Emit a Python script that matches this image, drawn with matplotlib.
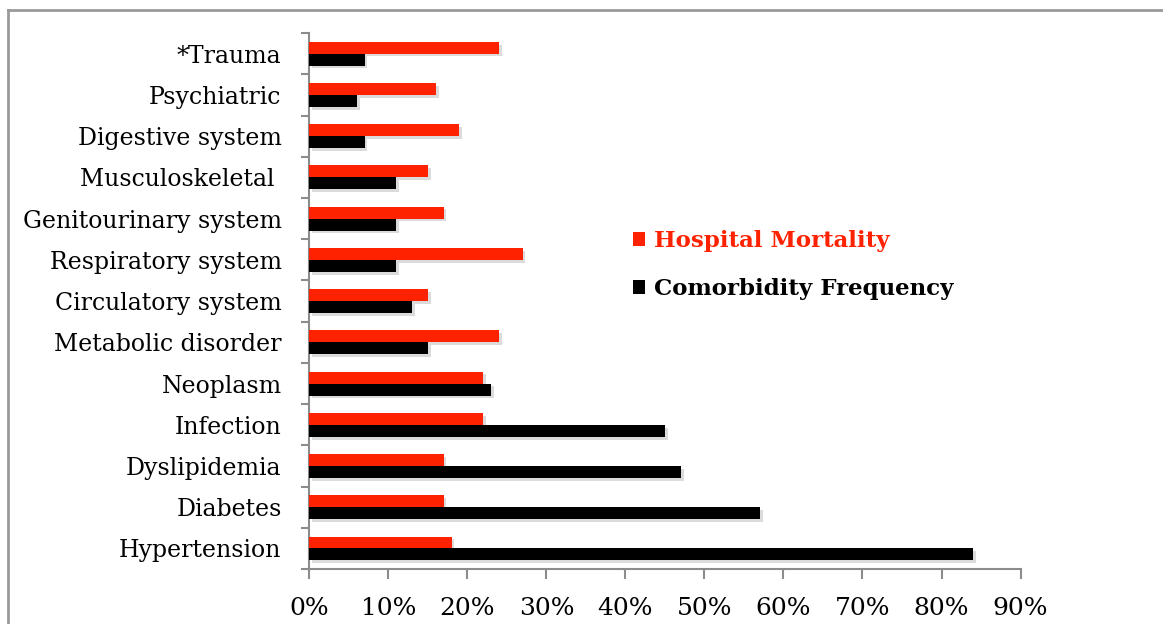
import matplotlib
matplotlib.use("Agg")
import matplotlib.pyplot as plt
import matplotlib.patheffects as pe
from matplotlib.lines import Line2D
from matplotlib.patches import Patch
from matplotlib.ticker import FixedLocator, PercentFormatter
import numpy as np

categories = [
    "Hypertension", "Diabetes", "Dyslipidemia", "Infection", "Neoplasm",
    "Metabolic disorder", "Circulatory system", "Respiratory system",
    "Genitourinary system", "Musculoskeletal ", "Digestive system",
    "Psychiatric", "*Trauma",
]
hospital_mortality = [18, 17, 17, 22, 22, 24, 15, 27, 17, 15, 19, 16, 24]
comorbidity_frequency = [84, 57, 47, 45, 23, 15, 13, 11, 11, 11, 7, 6, 7]
x_ticks = [0, 10, 20, 30, 40, 50, 60, 70, 80, 90]

RED = "#ff2200"
BLACK = "#000000"
AXIS_GRAY = "#8c8c8c"

plt.rcParams["font.family"] = ["DejaVu Serif"]

fig = plt.figure(figsize=(11.63, 6.24), dpi=100)
ax = fig.add_axes([0.266, 0.088, 0.6115, 0.859])

y = np.arange(len(categories))
h = 0.29
shadow = [pe.SimplePatchShadow(offset=(2, -2), shadow_rgbFace="#9a9a9a", alpha=0.35),
          pe.Normal()]

bars_red = ax.barh(y + h / 2, hospital_mortality, height=h, color=RED,
                   label="Hospital Mortality", zorder=3)
bars_black = ax.barh(y - h / 2, comorbidity_frequency, height=h, color=BLACK,
                     label="Comorbidity Frequency", zorder=3)
for b in list(bars_red) + list(bars_black):
    b.set_path_effects(shadow)

ax.set_xlim(0, 90)
ax.set_ylim(-0.5, len(categories) - 0.5)

ax.set_xticks(x_ticks)
ax.xaxis.set_major_formatter(PercentFormatter(decimals=0))
ax.set_yticks(y)
ax.set_yticklabels(categories)
ax.yaxis.set_minor_locator(FixedLocator(np.arange(-0.5, len(categories), 1.0)))

ax.tick_params(axis="y", which="major", length=0, pad=20, labelsize=17)
ax.tick_params(axis="y", which="minor", length=6, width=1.5, color=AXIS_GRAY,
               direction="out")
ax.tick_params(axis="x", which="major", length=7, width=1.5, color=AXIS_GRAY,
               direction="out", pad=13, labelsize=18)

for side in ("top", "right"):
    ax.spines[side].set_visible(False)
for side in ("left", "bottom"):
    ax.spines[side].set_color(AXIS_GRAY)
    ax.spines[side].set_linewidth(1.5)

handles = [Patch(facecolor=RED), Patch(facecolor=BLACK)]
leg = fig.legend(handles, ["Hospital Mortality", "Comorbidity Frequency"],
                 loc="upper left", bbox_to_anchor=(0.544, 0.631),
                 borderaxespad=0, frameon=False,
                 handlelength=0.55, handleheight=0.55,
                 handletextpad=0.4, labelspacing=1.12, borderpad=0,
                 prop={"family": "DejaVu Serif", "weight": "bold", "size": 16.5},
                 labelcolor=[RED, BLACK])

# outer chart frame (left and top edges)
x0, y0 = 8 / 1163, 1 - 10 / 624
fig.add_artist(Line2D([x0, x0], [0, y0], color="#9a9a9a", lw=2,
                      transform=fig.transFigure))
fig.add_artist(Line2D([x0, 1.01], [y0, y0], color="#9a9a9a", lw=2,
                      transform=fig.transFigure))

fig.savefig("out.png", dpi=100)
